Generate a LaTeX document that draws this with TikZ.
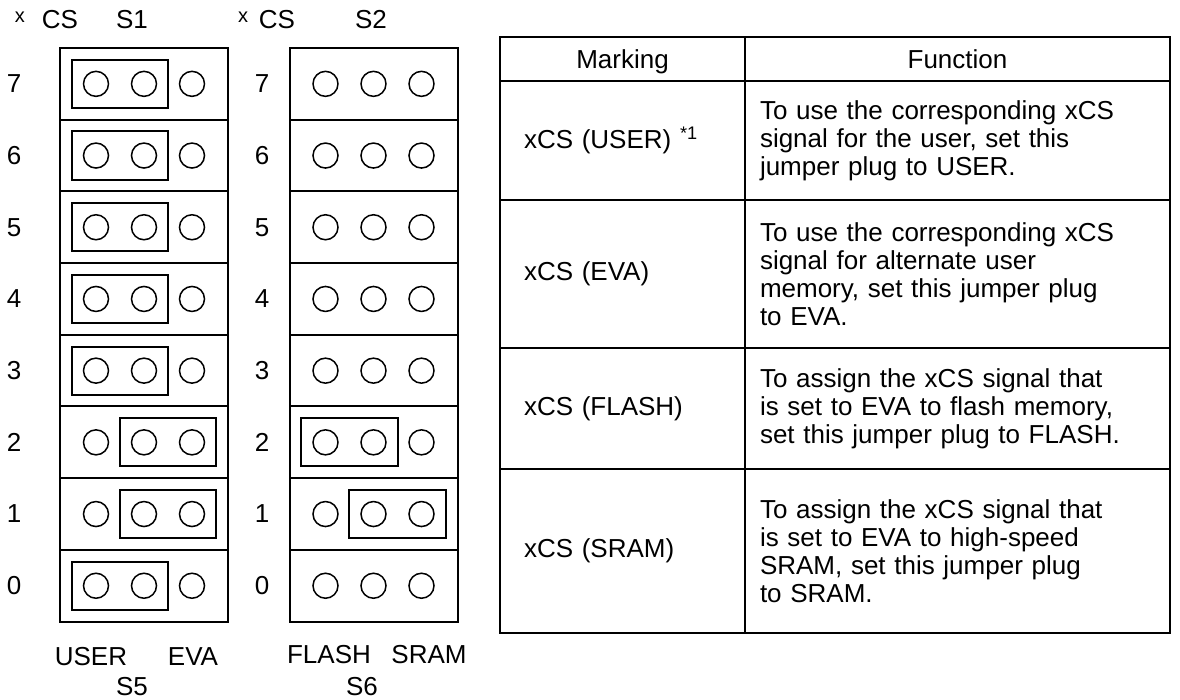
\documentclass[tikz,border=0pt]{standalone}
\usepackage{fontspec}
\setmainfont{Liberation Sans}
\usetikzlibrary{fit}

\begin{document}
\begin{tikzpicture}[
    x=0.5pt, y=-0.5pt,
    every node/.style={font=\fontsize{13}{15}\selectfont},
    cell/.style={draw, line width=1pt, minimum width=84pt, minimum height=35.85pt, inner sep=0pt},
    pin/.style={draw, circle, line width=0.75pt, minimum size=12.5pt, inner sep=0pt},
    plug/.style={draw, line width=1pt, inner sep=5.4pt},
    tcell/.style={draw, line width=1pt, outer sep=0pt, anchor=north west, align=left,
        font=\fontsize{13}{14}\selectfont},
    mark cell/.style={tcell, text width=98.5pt, inner xsep=12pt},
    fn cell/.style={tcell, text width=197.5pt, inner xsep=7.5pt},
    head cell/.style={align=center, minimum height=22pt, text depth=0pt}
]
\useasboundingbox (0,0) rectangle (1180,700);

% === HEADINGS ===
\node (xa) at (20,17) {\fontsize{10}{10}\selectfont x};
\node (csa) at (60,20) {CS};
\node (s1) at (132,20) {S1};
\node (xb) at (243,17) {\fontsize{10}{10}\selectfont x};
\node (csb) at (277,20) {CS};
\node (s2) at (371,20) {S2};

% === JUMPER BLOCKS ===
\foreach \r in {0,...,7} {
    \pgfmathsetmacro{\yy}{83.85+(7-\r)*71.7}
    \node[cell] (s1-\r) at (144,\yy) {};
    \node[cell] (s2-\r) at (373.5,\yy) {};
    \node (ra\r) at (14,\yy) {\r};
    \node (rb\r) at (262,\yy) {\r};
    \foreach \i in {1,2,3} {
        \node[pin] (s1-\r-\i) at (48+48*\i,\yy) {};
        \node[pin] (s2-\r-\i) at (277.5+48*\i,\yy) {};
    }
}

% === PLUGS ===
\foreach \r in {7,6,5,4,3,0}
    \node[plug, fit=(s1-\r-1)(s1-\r-2)] (p1-\r) {};
\foreach \r in {2,1}
    \node[plug, fit=(s1-\r-2)(s1-\r-3)] (p1-\r) {};
\node[plug, fit=(s2-2-1)(s2-2-2)] (p2-2) {};
\node[plug, fit=(s2-1-2)(s2-1-3)] (p2-1) {};

% === SETTINGS ===
\node (user) at (91,657) {USER};
\node (eva) at (193,657) {EVA};
\node (s5) at (132,687) {S5};
\node (flash) at (329,655) {FLASH};
\node (sram) at (429,655) {SRAM};
\node (s6) at (362,687) {S6};

% === TABLE ===
\node[mark cell, head cell] (hmark) at (500,37) {Marking};
\node[fn cell, head cell] (hfunc) at (hmark.north east) {Function};

\node[mark cell, minimum height=59.5pt] (mk1) at (hmark.south west) {xCS (USER) \textsuperscript{*1}};
\node[fn cell, minimum height=59.5pt] (fn1) at (mk1.north east)
    {To use the corresponding xCS\\ signal for the user, set this\\ jumper plug to USER.};

\node[mark cell, minimum height=74pt] (mk2) at (mk1.south west) {xCS (EVA)};
\node[fn cell, minimum height=74pt] (fn2) at (mk2.north east)
    {To use the corresponding xCS\\ signal for alternate user\\ memory, set this jumper plug\\ to EVA.};

\node[mark cell, minimum height=60.5pt] (mk3) at (mk2.south west) {xCS (FLASH)};
\node[fn cell, minimum height=60.5pt] (fn3) at (mk3.north east)
    {To assign the xCS signal that\\ is set to EVA to flash memory,\\ set this jumper plug to FLASH.};

\node[mark cell, minimum height=82pt] (mk4) at (mk3.south west) {xCS (SRAM)};
\node[fn cell, minimum height=82pt] (fn4) at (mk4.north east)
    {To assign the xCS signal that\\ is set to EVA to high-speed\\ SRAM, set this jumper plug\\ to SRAM.};

\end{tikzpicture}
\end{document}
